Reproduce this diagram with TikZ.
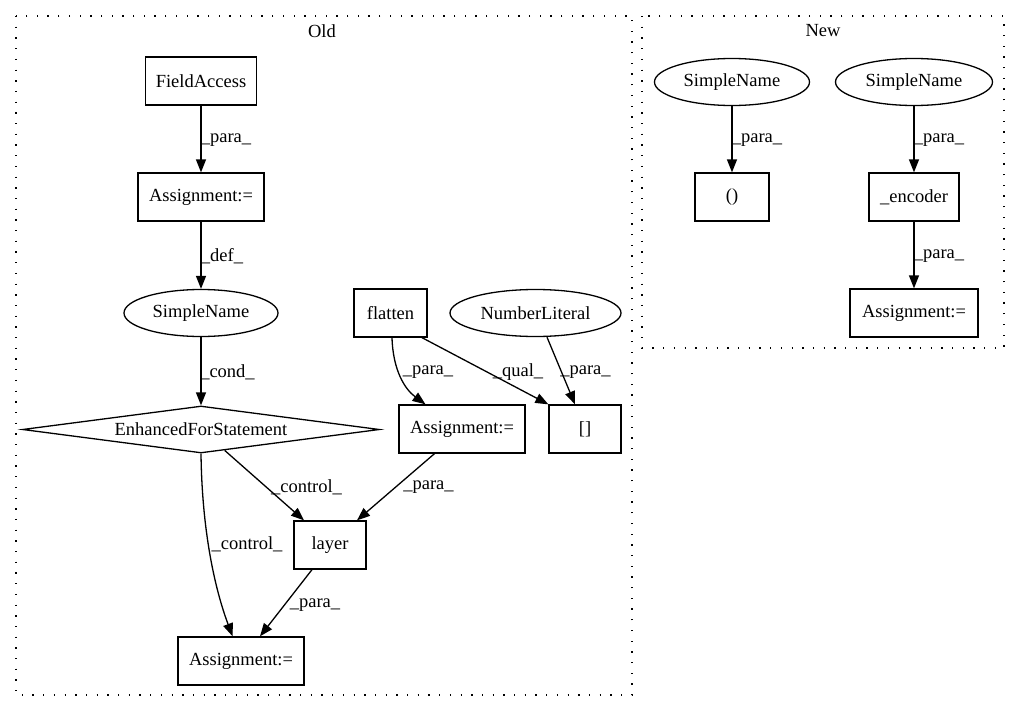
\documentclass[tikz,border=0pt]{standalone}
\usepackage{fontspec}
\setmainfont{Liberation Serif}
\usetikzlibrary{shapes.geometric,arrows.meta}
\begin{document}
\begin{tikzpicture}[x=1pt,y=-1pt,
  every node/.style={font=\fontsize{18.5}{22}\selectfont},
  box/.style={draw, rectangle, line width=1.3pt, minimum height=48pt, inner sep=0pt},
  ell/.style={draw, ellipse, line width=1.3pt, minimum height=47pt, inner sep=0pt},
  dia/.style={draw, diamond, aspect=7.6, line width=1.3pt, inner sep=0pt, minimum width=357pt, minimum height=47pt},
  cluster/.style={line width=1.3pt, dash pattern=on 1.3pt off 9.4pt},
  conn/.style={draw, line width=1.3pt, -{Triangle[length=13pt,width=10pt]}},
  lbl/.style={inner sep=0pt}]
\useasboundingbox (0,0) rectangle (1013,712);
% clusters
\draw[cluster] (16,16) rectangle (632,695);
\draw[cluster] (642,16) rectangle (1004,348);
\node[lbl] (oldlbl) at (322,31) {Old};
\node[lbl] (newlbl) at (823,31) {New};
% Old nodes
\node[box, minimum width=111pt] (fa) at (201,81) {FieldAccess};
\node[box, minimum width=126pt] (a1) at (201,197) {Assignment:=};
\node[ell, minimum width=154pt] (sn) at (201,313) {SimpleName};
\node[box, minimum width=73pt] (flatten) at (390.5,313) {flatten};
\node[ell, minimum width=171pt] (nl) at (535.5,313) {NumberLiteral};
\node[dia] (efs) at (201,429.5) {EnhancedForStatement};
\node[box, minimum width=126pt] (a2) at (462,429) {Assignment:=};
\node[box, minimum width=72pt] (brk) at (585,429) {[]};
\node[box, minimum width=72pt] (layer) at (330,545) {layer};
\node[box, minimum width=126pt] (a3) at (241,661) {Assignment:=};
% New nodes
\node[ell, minimum width=155pt] (sn1) at (732,82) {SimpleName};
\node[ell, minimum width=157pt] (sn2) at (914,82) {SimpleName};
\node[box, minimum width=74pt] (paren) at (732,197) {()};
\node[box, minimum width=90pt] (enc) at (914,197) {\_encoder};
\node[box, minimum width=128pt] (a4) at (914,313) {Assignment:=};
% Old connectors
\draw[conn] (fa) -- (a1);
\draw[conn] (a1) -- (sn);
\draw[conn] (sn) -- (efs);
\draw[conn] ([xshift=1.5pt]flatten.south) .. controls ([xshift=2.5pt,yshift=-33pt]flatten.south) and ([xshift=-57pt,yshift=15pt]a2.north) .. ([xshift=-36.5pt]a2.north);
\draw[conn] ([xshift=31.5pt]flatten.south) -- (brk.north west);
\draw[conn] ([xshift=11.5pt]nl.south) -- ([xshift=-10pt]brk.north);
\draw[conn] (efs) -- ([xshift=-26pt]layer.north);
\draw[conn] ([xshift=-27.5pt]a2.south) -- ([xshift=27pt]layer.north);
\draw[conn] (efs.south) .. controls ([xshift=1pt,yshift=-78pt]efs.south) and ([xshift=-26pt,yshift=47pt]a3.north) .. ([xshift=-8.4pt]a3.north);
\draw[conn] ([xshift=-18pt]layer.south) -- ([xshift=19pt]a3.north);
% New connectors
\draw[conn] (sn1) -- (paren);
\draw[conn] (sn2) -- (enc);
\draw[conn] (enc) -- (a4);
% edge labels
\node[lbl] (l1) at (226,140) {\_para\_};
\node[lbl] (l2) at (222,256) {\_def\_};
\node[lbl] (l3) at (227.5,372) {\_cond\_};
\node[lbl] (l4) at (428,372) {\_para\_};
\node[lbl] (l5) at (518,372) {\_qual\_};
\node[lbl] (l6) at (585.5,372) {\_para\_};
\node[lbl] (l7) at (306.5,487) {\_control\_};
\node[lbl] (l8) at (428.5,487) {\_para\_};
\node[lbl] (l9) at (247,544) {\_control\_};
\node[lbl] (l10) at (315,605) {\_para\_};
\node[lbl] (l11) at (757,140) {\_para\_};
\node[lbl] (l12) at (939,140) {\_para\_};
\node[lbl] (l13) at (939,256) {\_para\_};
\end{tikzpicture}
\end{document}
